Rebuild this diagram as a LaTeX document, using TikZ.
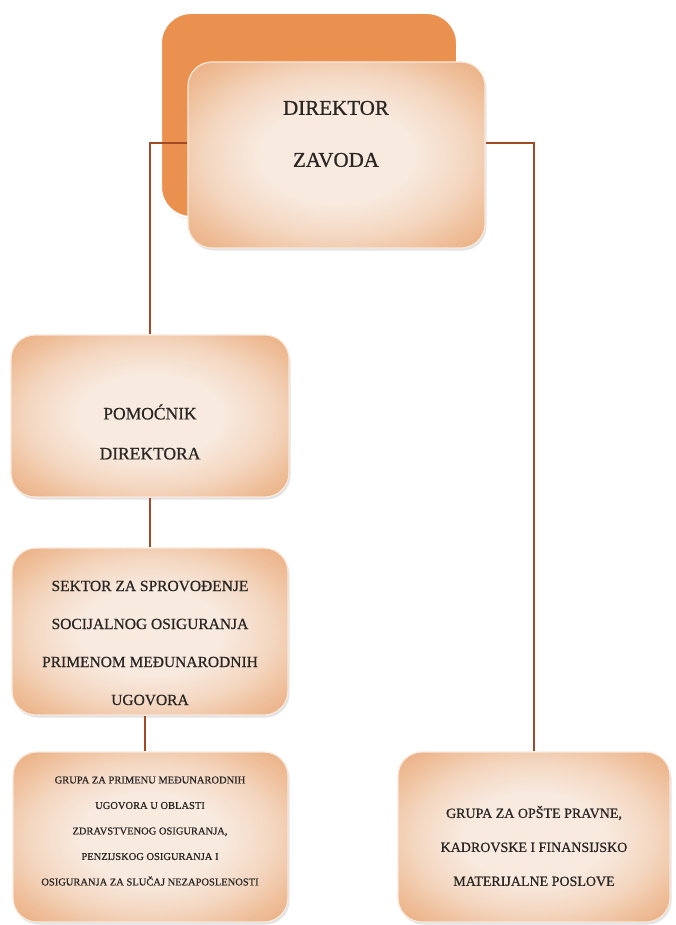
\documentclass[tikz,border=0pt]{standalone}
\usepackage{fontspec}
\setmainfont{Liberation Serif}[FakeBold=0.7]
\usetikzlibrary{shadows}
\definecolor{backor}{HTML}{EA914F}
\definecolor{edgeor}{HTML}{E7A372}
\definecolor{darkor}{HTML}{E39964}
\definecolor{midor}{HTML}{EEBD97}
\definecolor{lightor}{HTML}{F4D7C1}
\definecolor{cream}{HTML}{F8EADF}
\definecolor{lineb}{HTML}{A24A26}
\definecolor{txt}{HTML}{2A2624}
\pgfdeclareradialshading{boxshade}{\pgfpoint{0bp}{0bp}}{color(0bp)=(cream); color(13bp)=(cream); color(22bp)=(lightor); color(30bp)=(midor); color(39bp)=(edgeor); color(50bp)=(darkor)}
\begin{document}
\begin{tikzpicture}[x=1pt,y=-1pt,
  box/.style={rectangle, rounded corners=24pt, draw=white!75!edgeor, line width=1.2pt,
    shading=boxshade,
    drop shadow={opacity=0.22, shadow xshift=1.5pt, shadow yshift=-2.5pt}},
  backbox/.style={rectangle, rounded corners=30pt, draw=white, line width=2pt, fill=backor,
    drop shadow={opacity=0.2, shadow xshift=1pt, shadow yshift=-2pt}},
  conn/.style={draw=lineb, line width=2.4pt},
  lbl/.style={align=center, text=txt}]
\useasboundingbox (0,0) rectangle (675,925);
% boxes
\node[backbox, minimum width=296pt, minimum height=204pt] (back) at (309,115) {};
\node[box, minimum width=297pt, minimum height=186pt] (dir) at (336.5,155) {};
\node[box, minimum width=278pt, minimum height=162pt] (pom) at (150,416) {};
\node[box, minimum width=276pt, minimum height=167pt] (sek) at (150,631.5) {};
\node[box, minimum width=275pt, minimum height=170pt] (grpa) at (150.5,837) {};
\node[box, minimum width=272pt, minimum height=170pt] (grpb) at (534,837) {};
% labels
\node[lbl, font=\fontsize{21}{52}\selectfont] (dirt) at (336,134) {DIREKTOR\\ZAVODA};
\node[lbl, font=\fontsize{17.5}{40}\selectfont] (pomt) at (150,432) {POMOĆNIK\\DIREKTORA};
\node[lbl, font=\fontsize{15.5}{38}\selectfont] (sekt) at (150,643) {SEKTOR ZA SPROVOĐENJE\\SOCIJALNOG OSIGURANJA\\PRIMENOM MEĐUNARODNIH\\UGOVORA};
\node[lbl, font=\fontsize{10.5}{25.5}\selectfont] (grpat) at (150,831) {GRUPA ZA PRIMENU MEĐUNARODNIH\\UGOVORA U OBLASTI\\ZDRAVSTVENOG OSIGURANJA,\\PENZIJSKOG OSIGURANJA I\\OSIGURANJA ZA SLUČAJ NEZAPOSLENOSTI};
\node[lbl, font=\fontsize{14}{34}\selectfont] (grpbt) at (534,846) {GRUPA ZA OPŠTE PRAVNE,\\KADROVSKE I FINANSIJSKO\\MATERIJALNE POSLOVE};
% connectors
\draw[conn] ([yshift=12pt]dir.west) -| (pom.north);
\draw[conn] ([yshift=12pt]dir.east) -| (grpb.north);
\draw[conn] (pom.south) -- (sek.north);
\draw[conn] ([xshift=-5pt]sek.south) -- ([xshift=-5pt]sek.south |- grpa.north);
\end{tikzpicture}
\end{document}
